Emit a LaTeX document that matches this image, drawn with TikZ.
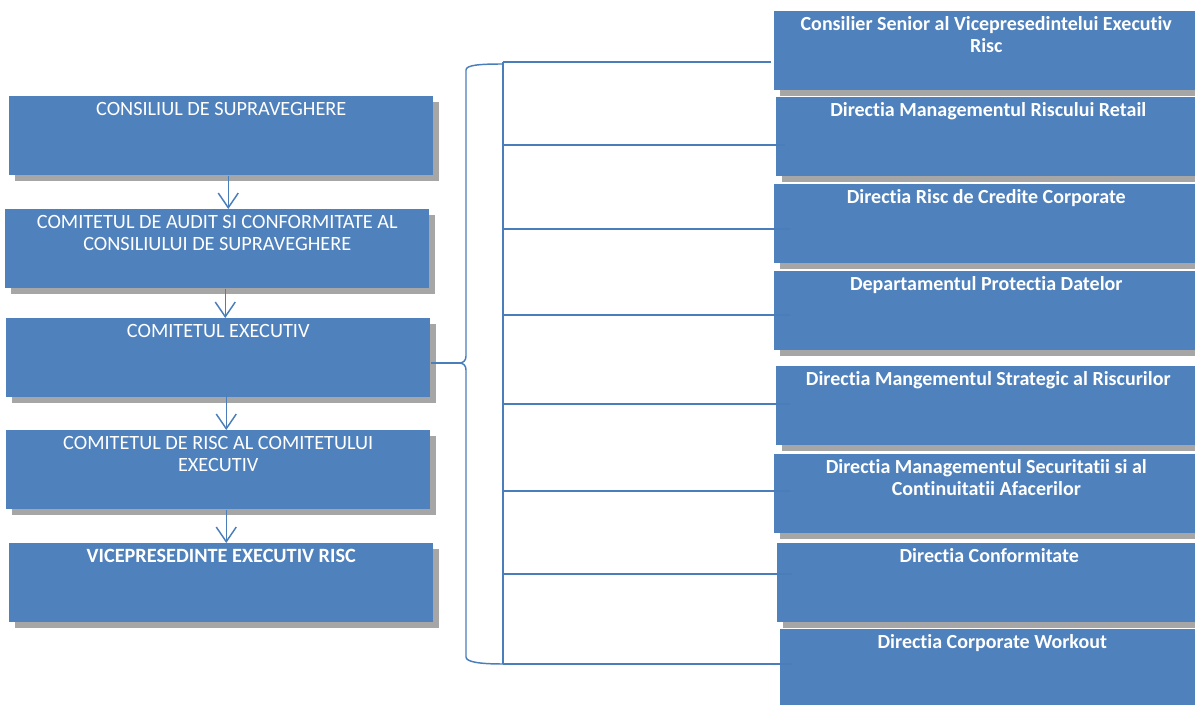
\documentclass[tikz,border=0pt]{standalone}
\usepackage{fontspec}
\setmainfont{Carlito}[Ligatures=NoCommon]
\usetikzlibrary{arrows.meta,shadows,calc}

\definecolor{boxblue}{HTML}{4F81BD}
\definecolor{linkblue}{HTML}{4A7EBB}
\definecolor{shadowgray}{HTML}{A6A6A6}

% box text sits at the top of the box
\newcommand\toptext[1]{\parbox[c][59.25pt][t]{318pt}{\centering\rule{0pt}{14.25pt}#1}}

\tikzset{
  orgbox/.style={fill=boxblue, draw=none, inner sep=0pt, text=white,
    anchor=north west,
    drop shadow={shadow xshift=4.5pt, shadow yshift=-4.5pt, fill=shadowgray, opacity=1}},
  leftbox/.style={orgbox, font=\fontsize{15.2}{16.5}\selectfont},
  rightbox/.style={orgbox, font=\fontsize{15}{17}\selectfont\bfseries},
  link/.style={draw=linkblue, line width=1.1pt},
  arr/.style={link, -{Straight Barb[length=11pt,width=15pt]}},
}

\begin{document}
\begin{tikzpicture}[x=0.75pt, y=-0.75pt]
\useasboundingbox (0,0) rectangle (1195,705);
\clip (0,0) rectangle (1195,705);

% governance chain
\node[leftbox] (b1) at (9,96)  {\toptext{CONSILIUL DE SUPRAVEGHERE}};
\node[leftbox] (b2) at (5,209) {\toptext{COMITETUL DE AUDIT SI CONFORMITATE AL\\CONSILIULUI DE SUPRAVEGHERE}};
\node[leftbox] (b3) at (6,318) {\toptext{COMITETUL EXECUTIV}};
\node[leftbox] (b4) at (6,430) {\toptext{COMITETUL DE RISC AL COMITETULUI\\EXECUTIV}};
\node[leftbox] (b5) at (9,543) {\toptext{\bfseries VICEPRESEDINTE EXECUTIV RISC}};

% departments
\node[rightbox] (r1) at (774,11)  {\toptext{Consilier Senior al Vicepresedintelui Executiv\\Risc}};
\node[rightbox] (r2) at (776,97)  {\toptext{Directia Managementul Riscului Retail}};
\node[rightbox] (r3) at (774,184) {\toptext{Directia Risc de Credite Corporate}};
\node[rightbox] (r4) at (774,271) {\toptext{Departamentul Protectia Datelor}};
\node[rightbox] (r5) at (776,366) {\toptext{Directia Mangementul Strategic al Riscurilor}};
\node[rightbox] (r6) at (774,454) {\toptext{Directia Managementul Securitatii si al\\Continuitatii Afacerilor}};
\node[rightbox] (r7) at (777,543) {\toptext{Directia Conformitate}};
\node[rightbox] (r8) at (780,629) {\toptext{Directia Corporate Workout}};

% arrows down the chain
\draw[arr] ($(b1.south)+(7,0)$) coordinate (a1) -- (a1 |- b2.north);
\draw[arr] ($(b2.south)+(8,0)$) coordinate (a2) -- (a2 |- b3.north);
\draw[arr] ($(b3.south)+(8,-4)$) coordinate (a3) -- (a3 |- b4.north);
\draw[arr] ($(b4.south)+(8,0)$) coordinate (a4) -- (a4 |- b5.north);

% brace from the executive committee
\coordinate (tip) at (459,363);
\draw[link] (b3.east |- tip) -- (tip);
\draw[link] (503,64) .. controls (480,64) and (466,65) .. (466,70) -- (466,356)
  .. controls (466,361) and (463,363) .. (tip)
  .. controls (463,363) and (466,365) .. (466,370) -- (466,657)
  .. controls (466,662) and (480,664) .. (503,664);

% spine and branches
\coordinate (c1) at (503,62);
\coordinate (c2) at (503,145);
\coordinate (c3) at (503,229);
\coordinate (c4) at (503,315);
\coordinate (c5) at (503,404);
\coordinate (c6) at (503,491);
\coordinate (c7) at (503,574);
\coordinate (c8) at (503,664);
\draw[link] (c1) -- (c8);
\draw[link] (c1) -- ($(c1 -| r1.west)+(-3,0)$);
\draw[link] (c2) -- ($(c2 -| r2.west)+(9,0)$);
\draw[link] (c3) -- ($(c3 -| r3.west)+(16,0)$);
\draw[link] (c4) -- ($(c4 -| r4.west)+(16,0)$);
\draw[link] (c5) -- ($(c5 -| r5.west)+(14,0)$);
\draw[link] (c6) -- ($(c6 -| r6.west)+(16,0)$);
\draw[link] (c7) -- ($(c7 -| r7.west)+(15,0)$);
\draw[link] (c8) -- ($(c8 -| r8.west)+(12,0)$);
\end{tikzpicture}
\end{document}
